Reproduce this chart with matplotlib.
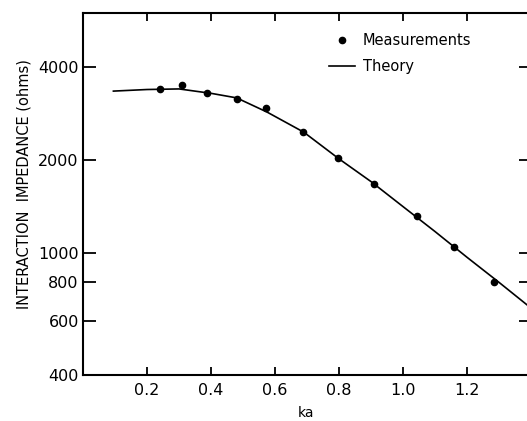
import numpy as np
import matplotlib
matplotlib.use("Agg")
from matplotlib import pyplot as plt
from matplotlib.ticker import FixedLocator, NullLocator, FixedFormatter

# measured points
ka_meas = [0.241, 0.309, 0.388, 0.481, 0.572, 0.688, 0.797, 0.909, 1.044, 1.159, 1.284]
z_meas = [3400, 3500, 3300, 3150, 2950, 2465, 2030, 1670, 1310, 1045, 800]

# theory curve
ka_theory = [0.095, 0.2, 0.3, 0.4, 0.48, 0.575, 0.69, 0.8, 0.9, 1.0, 1.1, 1.2, 1.3, 1.4]
z_theory = [3345, 3385, 3400, 3290, 3180, 2860, 2460, 2015, 1700, 1410, 1170, 965, 800, 660]

yticks = [400, 600, 800, 1000, 2000, 4000]
xticks = [0.2, 0.4, 0.6, 0.8, 1.0, 1.2]

W, H = 527, 421
fig = plt.figure(figsize=(W / 100, H / 100), dpi=100)
ax = fig.add_axes([83 / W, 46 / H, (531 - 83) / W, (375 - 13) / H])

ax.plot(ka_theory, z_theory, color='black', lw=1.2, label='Theory')
ax.plot(ka_meas, z_meas, 'o', color='black', ms=4.5, label='Measurements')

ax.set_yscale('log')
ax.set_xlim(0, 1.4)
ax.set_ylim(400, 6000)
ax.yaxis.set_major_locator(FixedLocator(yticks))
ax.yaxis.set_major_formatter(FixedFormatter([str(v) for v in yticks]))
ax.yaxis.set_minor_locator(NullLocator())
ax.set_xticks(xticks)
ax.set_xticklabels(['%.1f' % v for v in xticks])

ax.tick_params(axis='y', direction='in', length=9, width=1.3, labelsize=11.5,
               right=True, pad=3)
ax.tick_params(axis='x', direction='in', length=6, width=1.3, labelsize=11.5,
               top=True, pad=6)
for s in ['left', 'bottom', 'top']:
    ax.spines[s].set_linewidth(1.5)
ax.spines['right'].set_visible(False)

ax.set_ylabel('INTERACTION  IMPEDANCE (ohms)', fontsize=10.5)
ax.yaxis.set_label_coords((32 - 83) / 448, (375 - 184) / 362)
ax.set_xlabel('ka', fontsize=10)
ax.xaxis.set_label_coords((306 - 83) / 448, -(406 - 375) / 362)

h, l = ax.get_legend_handles_labels()
ax.legend([h[1], h[0]], [l[1], l[0]], frameon=False, fontsize=10.5,
          loc='upper left', bbox_to_anchor=(329 / W, 1 - 33 / H),
          bbox_transform=fig.transFigure, borderpad=0, borderaxespad=0,
          handlelength=1.8, handletextpad=0.5, labelspacing=0.75)

fig.savefig('out.png', dpi=100)
